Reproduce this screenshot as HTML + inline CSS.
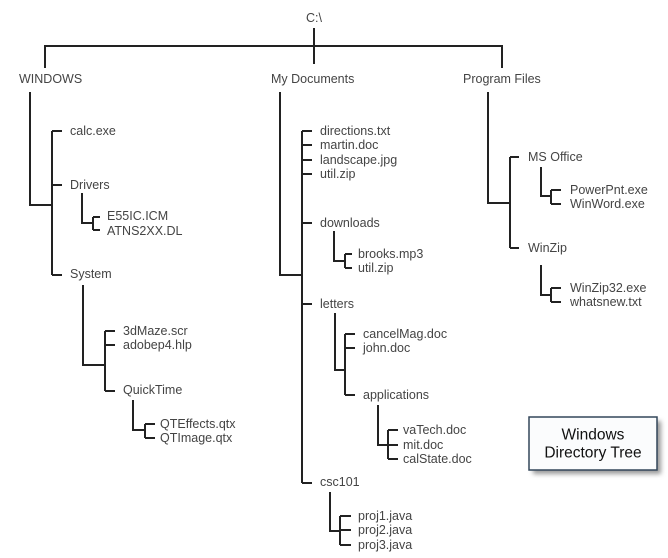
<!DOCTYPE html>
<html><head><meta charset="utf-8"><style>
html,body{margin:0;padding:0;background:#fff;}
svg{display:block;}
text{font-family:"Liberation Sans",sans-serif;font-size:12.5px;fill:#444;dominant-baseline:central;}
</style></head><body>
<svg width="668" height="558" viewBox="0 0 668 558">
<defs><filter id="sh" x="-20%" y="-20%" width="150%" height="150%"><feGaussianBlur stdDeviation="2.5"/></filter></defs>
<g stroke="#222" stroke-width="2" fill="none">
<!-- root -->
<path d="M314 28V64M45 68V46H502V68"/>
<!-- WINDOWS -->
<path d="M30 92V205H52M52 131V275M52 131H62M52 185H62M52 275H62"/>
<path d="M82 193V223H93M93 217V230M93 217H100M93 230H100"/>
<path d="M83 285V365H105M105 331V391M105 331H115M105 345H115M105 391H115"/>
<path d="M133 400V430H145M145 424V438M145 424H155M145 438H155"/>
<!-- My Documents -->
<path d="M280 92V275H302M302 131V483M302 131H312M302 145H312M302 160H312M302 174H312M302 223H312M302 304H312M302 483H312"/>
<path d="M334 231V261H345M345 254V268M345 254H352M345 268H352"/>
<path d="M335 313V370H345M345 334V395M345 334H355M345 348H355M345 395H355"/>
<path d="M378 405V445H388M388 430V459M388 430H398M388 445H398M388 459H398"/>
<path d="M330 492V531H340M340 516V545M340 516H351M340 530H351M340 545H351"/>
<!-- Program Files -->
<path d="M488 92V203H510M510 157V248M510 157H519M510 248H519"/>
<path d="M541 167V196H551M551 190V204M551 190H561M551 204H561"/>
<path d="M541 265V295H551M551 288V302M551 288H561M551 302H561"/>
</g>
<text x="306" y="18">C:\</text>
<text x="19" y="79">WINDOWS</text>
<text x="271" y="79">My Documents</text>
<text x="463" y="79">Program Files</text>
<text x="70" y="131">calc.exe</text>
<text x="70" y="185">Drivers</text>
<text x="70" y="274">System</text>
<text x="107" y="216">E55IC.ICM</text>
<text x="107" y="231">ATNS2XX.DL</text>
<text x="123" y="331">3dMaze.scr</text>
<text x="123" y="345">adobep4.hlp</text>
<text x="123" y="390">QuickTime</text>
<text x="160" y="424">QTEffects.qtx</text>
<text x="160" y="438">QTImage.qtx</text>
<text x="320" y="131">directions.txt</text>
<text x="320" y="145">martin.doc</text>
<text x="320" y="160">landscape.jpg</text>
<text x="320" y="174">util.zip</text>
<text x="320" y="223">downloads</text>
<text x="358" y="254">brooks.mp3</text>
<text x="358" y="268">util.zip</text>
<text x="320" y="304">letters</text>
<text x="363" y="334">cancelMag.doc</text>
<text x="363" y="348">john.doc</text>
<text x="363" y="395">applications</text>
<text x="403" y="430">vaTech.doc</text>
<text x="403" y="445">mit.doc</text>
<text x="403" y="459">calState.doc</text>
<text x="320" y="482">csc101</text>
<text x="358" y="516">proj1.java</text>
<text x="358" y="530">proj2.java</text>
<text x="358" y="545">proj3.java</text>
<text x="528" y="157">MS Office</text>
<text x="528" y="248">WinZip</text>
<text x="570" y="190">PowerPnt.exe</text>
<text x="570" y="204">WinWord.exe</text>
<text x="570" y="288">WinZip32.exe</text>
<text x="570" y="302">whatsnew.txt</text>
<rect x="533" y="421" width="128" height="53" fill="#999" filter="url(#sh)"/>
<rect x="529" y="417" width="128" height="53" fill="#fbfcfd" stroke="#33465a" stroke-width="1.5"/>
<text x="593" y="435" text-anchor="middle" style="font-size:15.5px;fill:#111">Windows</text>
<text x="593" y="453" text-anchor="middle" style="font-size:15.5px;fill:#111">Directory Tree</text>
</svg>
</body></html>
